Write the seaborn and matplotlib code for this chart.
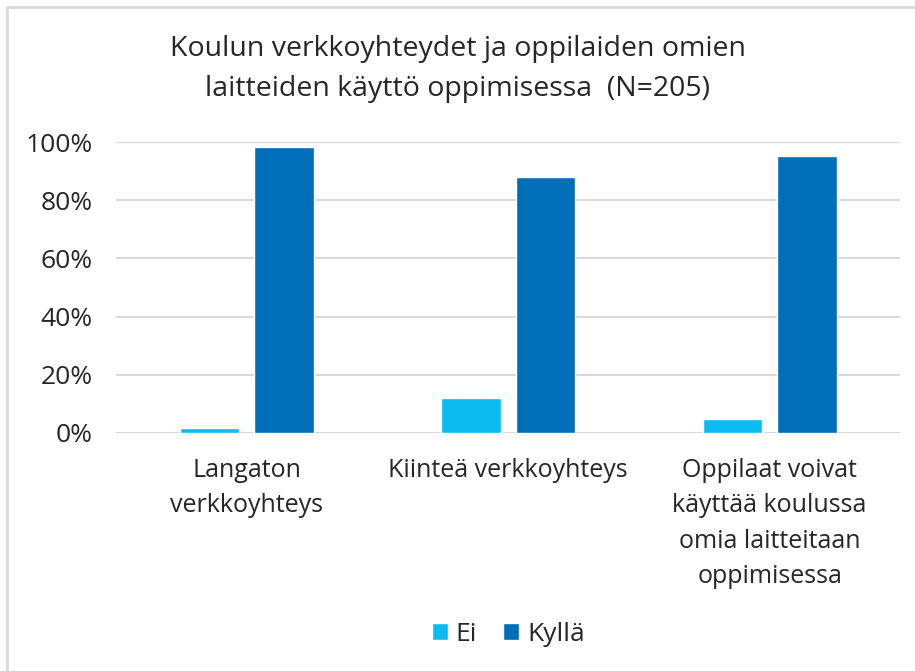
import pandas as pd
import matplotlib.pyplot as plt
import seaborn as sns
from matplotlib.patches import Rectangle
from matplotlib.ticker import PercentFormatter

# Datos
categorias = ['Langaton\nverkkoyhteys', 'Kiinteä verkkoyhteys',
              'Oppilaat voivat\nkäyttää koulussa\nomia laitteitaan\noppimisessa']
ei = [1.5, 12.0, 4.8]
kylla = [98.5, 88.0, 95.2]
series = ['Ei', 'Kyllä']
colores = ['#0ABBEF', '#006EB8']

df = pd.DataFrame({
    'kategoria': categorias * 2,
    'vastaus': ['Ei'] * 3 + ['Kyllä'] * 3,
    'osuus': ei + kylla,
})

sns.set_style('white')
plt.rcParams['font.family'] = ['Open Sans', 'DejaVu Sans']

fig = plt.figure(figsize=(9.15, 6.71), dpi=100)
ax = fig.add_axes([0.127, 0.355, 0.857, 0.433])

sns.barplot(data=df, x='kategoria', y='osuus', hue='vastaus', hue_order=series,
            palette=colores, saturation=1, width=0.57, gap=0.2, ax=ax, legend=True)

ax.set_ylim(0, 100)
ax.set_yticks(range(0, 101, 20))
ax.yaxis.set_major_formatter(PercentFormatter(decimals=0))
ax.grid(axis='y', color='#D9D9D9', linewidth=1.5)
ax.set_axisbelow(True)
for s in ax.spines.values():
    s.set_visible(False)
ax.tick_params(axis='both', length=0, colors='#262626')
ax.tick_params(axis='y', pad=17, labelsize=19)
ax.tick_params(axis='x', pad=18, labelsize=18)
for lbl in ax.get_xticklabels():
    lbl.set_linespacing(1.55)
ax.set_xlabel('')
ax.set_ylabel('')

ax.legend(loc='center', bbox_to_anchor=(0.5, -0.694), ncol=2, frameon=False,
          fontsize=19, handlelength=0.6, handleheight=0.6, handletextpad=0.3,
          columnspacing=1.0, labelcolor='#262626')

fig.text(0.5, 0.897, 'Koulun verkkoyhteydet ja oppilaiden omien\nlaitteiden käyttö oppimisessa  (N=205)',
         ha='center', va='center', fontsize=20.5, color='#262626', linespacing=1.55)

# marco
fig.patches.append(Rectangle((7 / 915, -0.1), 1.2, 1.1 - 7 / 671, transform=fig.transFigure,
                             fill=False, edgecolor='#D9D9D9', linewidth=2))

fig.savefig('out.png', dpi=100)
